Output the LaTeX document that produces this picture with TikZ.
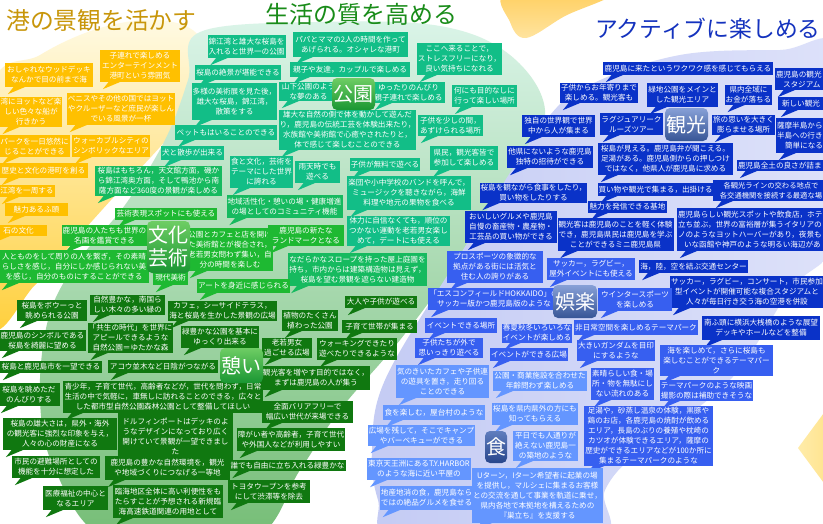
\documentclass[tikz,border=0pt]{standalone}
\usepackage{fontspec}
\newfontfamily\jp{Noto Sans CJK JP}
\usetikzlibrary{calc}
\definecolor{cY}{RGB}{255,192,0}
\definecolor{cT}{RGB}{18,190,135}
\definecolor{cTG}{RGB}{22,186,95}
\definecolor{cG}{RGB}{30,185,50}
\definecolor{cD}{RGB}{16,120,16}
\definecolor{cB}{RGB}{10,50,200}
\definecolor{cM}{RGB}{55,95,240}
\definecolor{cL}{RGB}{100,150,255}
\definecolor{ttlY}{RGB}{200,150,10}
\definecolor{ttlG}{RGB}{25,140,25}
\definecolor{ttlB}{RGB}{20,50,190}
\definecolor{yTop}{RGB}{255,250,228}
\definecolor{yBot}{RGB}{255,205,50}
\definecolor{gTop}{RGB}{218,244,232}
\definecolor{gBot}{RGB}{115,188,115}
\definecolor{bL}{RGB}{196,203,244}
\definecolor{bR}{RGB}{222,226,250}
\definecolor{icGT}{RGB}{110,205,100}
\definecolor{icGB}{RGB}{25,150,50}
\definecolor{icBT}{RGB}{135,160,215}
\definecolor{icBB}{RGB}{55,85,150}
\definecolor{icDT}{RGB}{95,125,190}
\definecolor{icDB}{RGB}{40,70,140}
\tikzset{
  bubble/.style={inner sep=1pt, align=center, text=white, font=\jp\fontsize{7.6}{10}\selectfont},
  icon/.style={rounded corners=5pt, inner sep=0pt, align=center, text=white, font=\jp\fontsize{20}{23}\selectfont},
  ttl/.style={inner sep=0pt, anchor=west}
}
% \bub[opts]{name}{color}{x1}{y1}{x2}{y2}{text}
\newcommand\bub[8][]{%
  \node[bubble, fill=#3, minimum width={(#6)-(#4)}, minimum height={(#7)-(#5)}, #1] (#2) at ({((#4)+(#6))/2},{((#5)+(#7))/2}) {#8};
  \fill[#3] ([xshift=9pt,yshift=0.5pt]#2.south west) -- ([xshift=21pt,yshift=0.5pt]#2.south west) -- ([xshift=3pt,yshift=-7pt]#2.south west) -- cycle;
}
\begin{document}
\begin{tikzpicture}[x=1pt,y=-1pt]
\useasboundingbox (0,0) rectangle (823,523);
\begin{scope}
\clip (0,0) rectangle (823,523);
\fill[white] (0,0) rectangle (823,523);
% background shapes
\shade[top color=yTop, bottom color=yBot] plot[smooth cycle, tension=0.6] coordinates {(-10,95) (40,55) (100,28) (160,20) (200,38) (198,90) (170,135) (120,190) (75,240) (35,285) (-10,320)};
\shade[top color=gTop, bottom color=gBot] plot[smooth cycle, tension=0.6] coordinates {(200,32) (320,22) (440,26) (510,55) (545,110) (520,175) (460,260) (400,340) (340,410) (300,470) (250,540) (110,540) (55,470) (40,400) (48,320) (75,265) (125,205) (165,140) (188,80)};
\shade[left color=bL, right color=bR] plot[smooth cycle, tension=0.6] coordinates {(372,450) (385,380) (455,263) (540,128) (590,85) (680,55) (780,50) (840,52) (840,230) (790,290) (730,380) (640,450) (605,490) (595,540) (400,540) (378,500)};
\shade[top color={rgb,255:red,255;green,205;blue,90}, bottom color={rgb,255:red,255;green,228;blue,160}] plot[smooth cycle, tension=0.6] coordinates {(508,-8) (612,-8) (565,16) (526,38) (510,22)};
\shade[left color={rgb,255:red,255;green,236;blue,170}, right color={rgb,255:red,255;green,215;blue,100}] (798,448) -- (835,398) -- (872,448) -- (835,498) -- cycle;

% titles
\node[ttl, text=ttlY, font=\jp\fontsize{23.8}{26}\selectfont] (ttl1) at (6,20) {港の景観を活かす};
\node[ttl, text=ttlG, font=\jp\fontsize{24}{26}\selectfont] (ttl2) at (265,14) {生活の質を高める};
\node[ttl, text=ttlB, font=\jp\fontsize{22.8}{26}\selectfont] (ttl3) at (595,29) {アクティブに楽しめる};

% yellow
\bub{y1}{cY}{5}{63}{93}{87}{おしゃれなウッドデッキ\\なんかで目の前まで海}
\bub{y2}{cY}{100}{50}{180}{82}{子連れで楽しめる\\エンターテインメント\\港町という雰囲気}
\bub{y3}{cY}{0}{97}{62}{127}{湾にヨットなど楽\\しい色々な船が\\行きかう}
\bub{y4}{cY}{67}{93}{175}{125}{ベニスやその他の国ではヨット\\やクルーザーなど庶民が楽しん\\でいる風景が一杯}
\bub{y5}{cY}{0}{135}{69}{157}{パークを一日悠然に\\じることができる}
\bub{y6}{cY}{72}{135}{150}{157}{ウォーカブルシティの\\シンボリックなエリア}
\bub{y7}{cY}{-1}{163}{88}{178}{歴史と文化の港町を創る}
\bub{y8}{cY}{-1}{185}{55}{197}{江湾を一周する}
\bub{y9}{cY}{5}{203}{68}{216}{魅力あるふ頭}
\bub{y10}{cY}{-10}{225}{47}{236}{石の文化}

% teal
\bub{t1}{cT}{208}{35}{285}{58}{錦江湾と雄大な桜島を\\入れると世界一の公園}
\bub{t2}{cT}{195}{65}{281}{80}{桜島の絶景が堪能できる}
\bub{t3}{cT}{192}{83}{277}{120}{多様の美術展を見た後，\\雄大な桜島，錦江湾，\\散策をする}
\bub{t4}{cT}{175}{125}{277}{140}{ペットもはいることのできる}
\bub{t5}{cT}{293}{32}{408}{57}{パパとママの2人の時間を作って\\あげられる。オシャレな港町}
\bub{t6}{cT}{290}{62}{410}{77}{親子や友達，カップルで楽しめる}
\bub{t7}{cT}{417}{43}{502}{75}{ここへ来ることで，\\ストレスフリーになり，\\良い気持ちになれる}
\bub{t8}{cT}{279}{82}{338}{101}{山下公園のよう\\な夢のある}
\bub{t9}{cT}{372}{82}{445}{103}{ゆったりのんびり\\親子連れで楽しめる}
\bub{t10}{cT}{452}{85}{517}{107}{何にも目的なしに\\行って楽しい場所}
\bub{t11}{cT}{280}{110}{415}{150}{雄大な自然の側で体を動かして遊んだ\\り，鹿児島の伝統工芸を体験出来たり，\\水族館や美術館で心癒やされたりと，\\体で感じて楽しむことのできる}
\bub{t12}{cT}{418}{115}{483}{136}{子供を少しの間，\\あずけられる場所}
\bub{t13}{cT}{162}{146}{223}{160}{犬と散歩が出来る}
\bub{t14}{cT}{230}{156}{293}{188}{食と文化，芸術を\\テーマにした世界\\に誇れる}
\bub{t15}{cT}{295}{161}{340}{183}{雨天時でも\\遊べる}
\bub{t16}{cT}{350}{158}{420}{171}{子供が無料で遊べる}
\bub{t17}{cT}{430}{146}{498}{170}{県民，観光客皆で\\参加して楽しめる}
\bub{t18}{cT}{348}{176}{470}{210}{楽団や小中学校のバンドを呼んで，\\ミュージックを聴きながら，海鮮\\料理や地元の果物を食べる}
\bub{t19}{cT}{347}{216}{450}{246}{体力に自信なくても，順位の\\つかない運動を老若男女楽し\\めて，デートにも使える}
\bub{t20}{cTG}{227}{195}{342}{218}{地域活性化・憩いの場・健康増進\\の場としてのコミュニティ機能}
\bub{t21}{cTG}{290}{253}{425}{286}{なだらかなスロープを持った屋上庭園を\\持ち，市内からは建築構造物は見えず，\\桜島を望む景観を遮らない建造物}

% green
\bub{g1}{cTG}{95}{166}{222}{196}{桜島はもちろん，天文館方面，磯か\\ら錦江湾奥方面，そして鴨池から南\\薩方面など360度の景観が楽しめる}
\bub{g2}{cG}{115}{208}{217}{220}{芸術表現スポットにも使える}
\bub{g3}{cG}{62}{225}{147}{246}{鹿児島の人たちも世界の\\名画を鑑賞できる}
\bub{g4}{cG}{187}{228}{273}{271}{公園とカフェと店を開け\\た美術館とが複合され，\\老若男女問わず集い，自\\分の時間を楽しむ}
\bub{g8}{cG}{268}{225}{344}{246}{鹿児島の新たな\\ランドマークとなる}
\bub{g5}{cG}{-1}{250}{149}{283}{人とものをして周りの人を繋ぎ，その素晴\\らしさを感じ，自分にしか感じられない美\\を感じ，自分のものにすることができる}
\bub{g6}{cG}{153}{271}{188}{285}{現代美術}
\bub{g7}{cG}{197}{279}{290}{293}{アートを身近に感じられる}

% dark green
\bub{d1}{cD}{17}{300}{87}{321}{桜島をボウーっと\\眺められる公園}
\bub{d2}{cD}{90}{295}{165}{315}{自然豊かな，南国ら\\しい木々の多い緑の}
\bub{d3}{cD}{170}{301}{275}{321}{カフェ，シーサイドテラス，\\海と桜島を生かした景観の広場}
\bub{d4}{cD}{-1}{330}{86}{351}{鹿児島のシンボルである\\桜島を綺麗に望める}
\bub{d5}{cD}{88}{323}{173}{353}{「共生の時代」を世界に\\アピールできるような\\自然公園＝ゆたかな森}
\bub{d6}{cD}{182}{326}{258}{348}{緑豊かな公園を基本に\\ゆっくり出来る}
\bub{d7}{cD}{0}{361}{102}{373}{桜島と鹿児島市を一望できる}
\bub{d8}{cD}{108}{360}{218}{373}{アコウ並木など日陰がつながる}
\bub{d9}{cD}{345}{296}{417}{308}{大人や子供が遊べる}
\bub{d10}{cD}{282}{310}{338}{331}{植物のたくさん\\植わった公園}
\bub{d11}{cD}{342}{320}{417}{333}{子育て世帯が集まる}
\bub{d12}{cD}{262}{338}{312}{358}{老若男女\\過ごせる広場}
\bub{d13}{cD}{317}{338}{397}{360}{ウォーキングできたり\\遊べたりできるような}
\bub{d14}{cD}{262}{366}{370}{390}{観光客を増やす目的ではなく，\\まずは鹿児島の人が集う}
\bub{d15}{cD}{63}{381}{263}{413}{青少年，子育て世代，高齢者などが，世代を問わず，日常\\生活の中で気軽に，車無しに訪れることのできる，広々と\\した都市型自然公園森林公園として整備してほしい}
\bub{d16}{cD}{-2}{383}{60}{406}{桜島を眺めただ\\のんびりする}
\bub{d17}{cD}{262}{401}{353}{423}{全面バリアフリーで\\幅広い世代が来場できる}
\bub{d18}{cD}{3}{418}{117}{450}{桜島の雄大さは，県外・海外\\の観光客に強烈な印象を与え，\\人々の心の財産になる}
\bub{d19}{cD}{118}{413}{233}{460}{ドルフィンポートはデッキのよ\\うなデザインになっており広く\\開けていて景観が一望できまし\\た}
\bub{d20}{cD}{12}{456}{100}{478}{市民の避難場所としての\\機能を十分に想定した}
\bub{d21}{cD}{105}{456}{230}{480}{鹿児島の豊かな自然環境を，観光\\や地域づくりにつなげる一等地}
\bub{d22}{cD}{43}{486}{108}{510}{医療福祉の中心と\\なるエリア}
\bub{d23}{cD}{113}{485}{223}{518}{臨海地区全体に高い利便性をも\\たらすことが予想される新規臨\\海高速鉄道関連の用地として}
\bub{d24}{cD}{237}{428}{345}{451}{障がい者や高齢者，子育て世代\\や外国人などが利用しやすい}
\bub{d25}{cD}{230}{460}{345}{471}{誰でも自由に立ち入れる緑豊かな}
\bub{d26}{cD}{228}{480}{310}{503}{トヨタウープンを参考\\にして渋滞等を除去}

% dark blue
\bub{b1}{cB}{603}{62}{773}{75}{鹿児島に来たというワクワク感を感じてもらえる}
\bub[align=left, text width=70pt]{b2}{cB}{775}{68}{847}{90}{鹿児島の観光\\\hspace*{7pt}スタジアム}
\bub{b3}{cB}{560}{83}{638}{103}{子供からお年寄りまで\\楽しめる。観光客も}
\bub{b4}{cB}{647}{83}{718}{107}{緑地公園をメインと\\した観光エリア}
\bub{b5}{cB}{725}{85}{772}{105}{県内全域に\\お金が落ちる}
\bub[align=left, text width=60pt]{b6}{cB}{778}{97}{840}{110}{\hspace*{3pt}新しい観光}
\bub{b7}{cB}{600}{113}{663}{135}{ラグジュアリーク\\ルーズツアー}
\bub{b8}{cB}{712}{115}{775}{135}{旅の思いを大きく\\膨らませる場所}
\bub[align=left, text width=60pt]{b9}{cB}{776}{118}{838}{153}{薩摩半島から\\半島への行き\\\hspace*{8pt}簡単になる}
\bub{b10}{cB}{522}{115}{595}{137}{独自の世界観で世界\\中から人が集まる}
\bub{b11}{cB}{508}{146}{592}{168}{他県にないような鹿児島\\独特の招待ができる}
\bub{b12}{cB}{482}{183}{585}{203}{桜島を観ながら食事をしたり，\\買い物をしたりする}
\bub{b13}{cB}{465}{211}{557}{243}{おいしいグルメや鹿児島\\自慢の畜産物・農産物・\\工芸品の買い物ができる}
\bub{b14}{cB}{598}{143}{733}{175}{桜島が見える。鹿児島弁が聞こえる。\\足湯がある。鹿児島側からの押しつけ\\ではなく，他県人が鹿児島に求める}
\bub[align=left, text width=96pt]{b15}{cB}{737}{160}{835}{171}{鹿児島全土の良さが詰ま}
\bub{b16}{cB}{598}{183}{713}{196}{買い物や観光で集まる，出掛ける}
\bub[font=\jp\fontsize{7.3}{10}\selectfont]{b17}{cB}{713}{180}{829}{201}{各観光ラインの交わる地点で\\各交通機関を接続する最適な場}
\bub{b18}{cB}{588}{201}{667}{213}{魅力を発信できる基地}
\bub{b19}{cB}{558}{218}{673}{251}{観光客は鹿児島のことを軽く体験\\でき，鹿児島県民は鹿児島を学ぶ\\ことができるミニ鹿児島県}
\bub[align=left, text width=161pt]{b20}{cB}{677}{208}{840}{251}{鹿児島らしい観光スポットや飲食店，ホテ\\立ち並ぶ，世界の富裕層が集うイタリアの\\ノのようなヨットハーバーがあり，夜景も\\\hspace*{6pt}いな函館や神戸のような明るい海辺があ}
\bub{b21}{cB}{671}{276}{823}{308}{サッカー，ラグビー，コンサート，市民参加\\型イベントが開催可能な複合スタジアムと\\人々が毎日行き交う海の空港を併設}
\bub{b22}{cB}{702}{316}{820}{340}{南ふ頭に横浜大桟橋のような展望\\デッキやホールなどを整備}
\bub{b23}{cB}{640}{260}{747}{273}{海，陸，空を結ぶ交通センター}

% medium blue
\bub{m1}{cM}{447}{251}{543}{283}{プロスポーツの象徴的な\\拠点がある街には活気と\\住む人の誇りがある}
\bub{m2}{cM}{432}{288}{556}{310}{「エスコンフィールドHOKKAIDO」の\\サッカー版かつ鹿児島版のような}
\bub{m3}{cM}{425}{318}{497}{333}{イベントできる場所}
\bub{m4}{cM}{502}{325}{572}{341}{春夏秋冬いろいろな\\イベントが楽しめる}
\bub{m5}{cM}{415}{338}{483}{358}{子供たちが外で\\思いっきり遊べる}
\bub{m6}{cM}{490}{348}{568}{361}{イベントができる広場}
\bub{m7}{cM}{547}{258}{635}{280}{サッカー，ラグビー，\\屋外イベントにも使える}
\bub{m9}{cM}{598}{288}{672}{311}{ウインタースポーツ\\を楽しめる}
\bub{m10}{cM}{575}{320}{697}{335}{非日常空間を楽しめるテーマパーク}
\bub{m11}{cM}{577}{340}{655}{361}{大きいガンダムを目印\\にするような}
\bub{m12}{cM}{660}{345}{773}{376}{海を楽しめて，さらに桜島も\\楽しむことができるテーマパー\\ク}
\bub{m13}{cM}{592}{368}{653}{400}{素晴らしい食・場\\所・物を無駄にし\\ない流れのある}
\bub{m14}{cM}{660}{380}{753}{401}{テーマパークのような映画\\撮影の際は補助できそうな}
\bub{m15}{cM}{585}{406}{712}{466}{足湯や，砂蒸し温泉の体験，黒豚や\\鶏のお店，各鹿児島の焼酎が飲める\\エリア，長島のぶりの養殖や枕崎の\\カツオが体験できるエリア，薩摩の\\歴史ができるエリアなどが100か所に\\集まるテーマパークのような}

% light blue
\bub{l1}{cL}{397}{365}{488}{398}{気のきいたカフェや子供連\\の遊具を置き，走り回る\\ことのできる}
\bub{l2}{cL}{493}{371}{587}{391}{公園・商業施設を合わせた\\年齢問わず楽しめる}
\bub{l3}{cL}{383}{405}{485}{420}{食を楽しむ，屋台村のような}
\bub{l4}{cL}{368}{425}{475}{446}{広場を残して，そこでキャンプ\\やバーベキューができる}
\bub{l5}{cL}{368}{458}{470}{480}{東京天王洲にあるT.Y.HARBOR\\のような海に近い平屋の}
\bub{l6}{cL}{380}{486}{473}{510}{地産地消の食，鹿児島なら\\ではの絶品グルメを食せる}
\bub{l7}{cL}{492}{403}{578}{425}{桜島を県内県外の方にも\\知ってもらえる}
\bub{l8}{cL}{513}{431}{578}{461}{平日でも人通りが\\絶えない鹿児島一\\の築地のような}
\bub{l9}{cL}{475}{468}{600}{523}{Uターン，Iターン希望者に起業の場\\を提供し，マルシェに集まるお客様\\との交流を通して事業を軌道に乗せ，\\県内各地で本拠地を構えるための\\『巣立ち』を支援する}

% icons
\node[icon, top color=icGT, bottom color=icGB, minimum width=43, minimum height=32] (iKoen) at (353.5,94) {公園};
\node[icon, top color=icGT, bottom color=icGB, minimum width=43, minimum height=52] (iBunka) at (168.5,247) {文化\\芸術};
\node[icon, top color=icGT, bottom color=icGB, minimum width=43, minimum height=35] (iIkoi) at (241.5,365.5) {憩い};
\node[icon, top color=icBT, bottom color=icBB, minimum width=43, minimum height=33] (iKanko) at (686.5,124.5) {観光};
\node[icon, top color=icBT, bottom color=icBB, minimum width=44, minimum height=33] (iGoraku) at (575,301.5) {娯楽};
\node[icon, top color=icDT, bottom color=icDB, minimum width=22, minimum height=32] (iShoku) at (496,447) {食};
\end{scope}
\end{tikzpicture}
\end{document}
